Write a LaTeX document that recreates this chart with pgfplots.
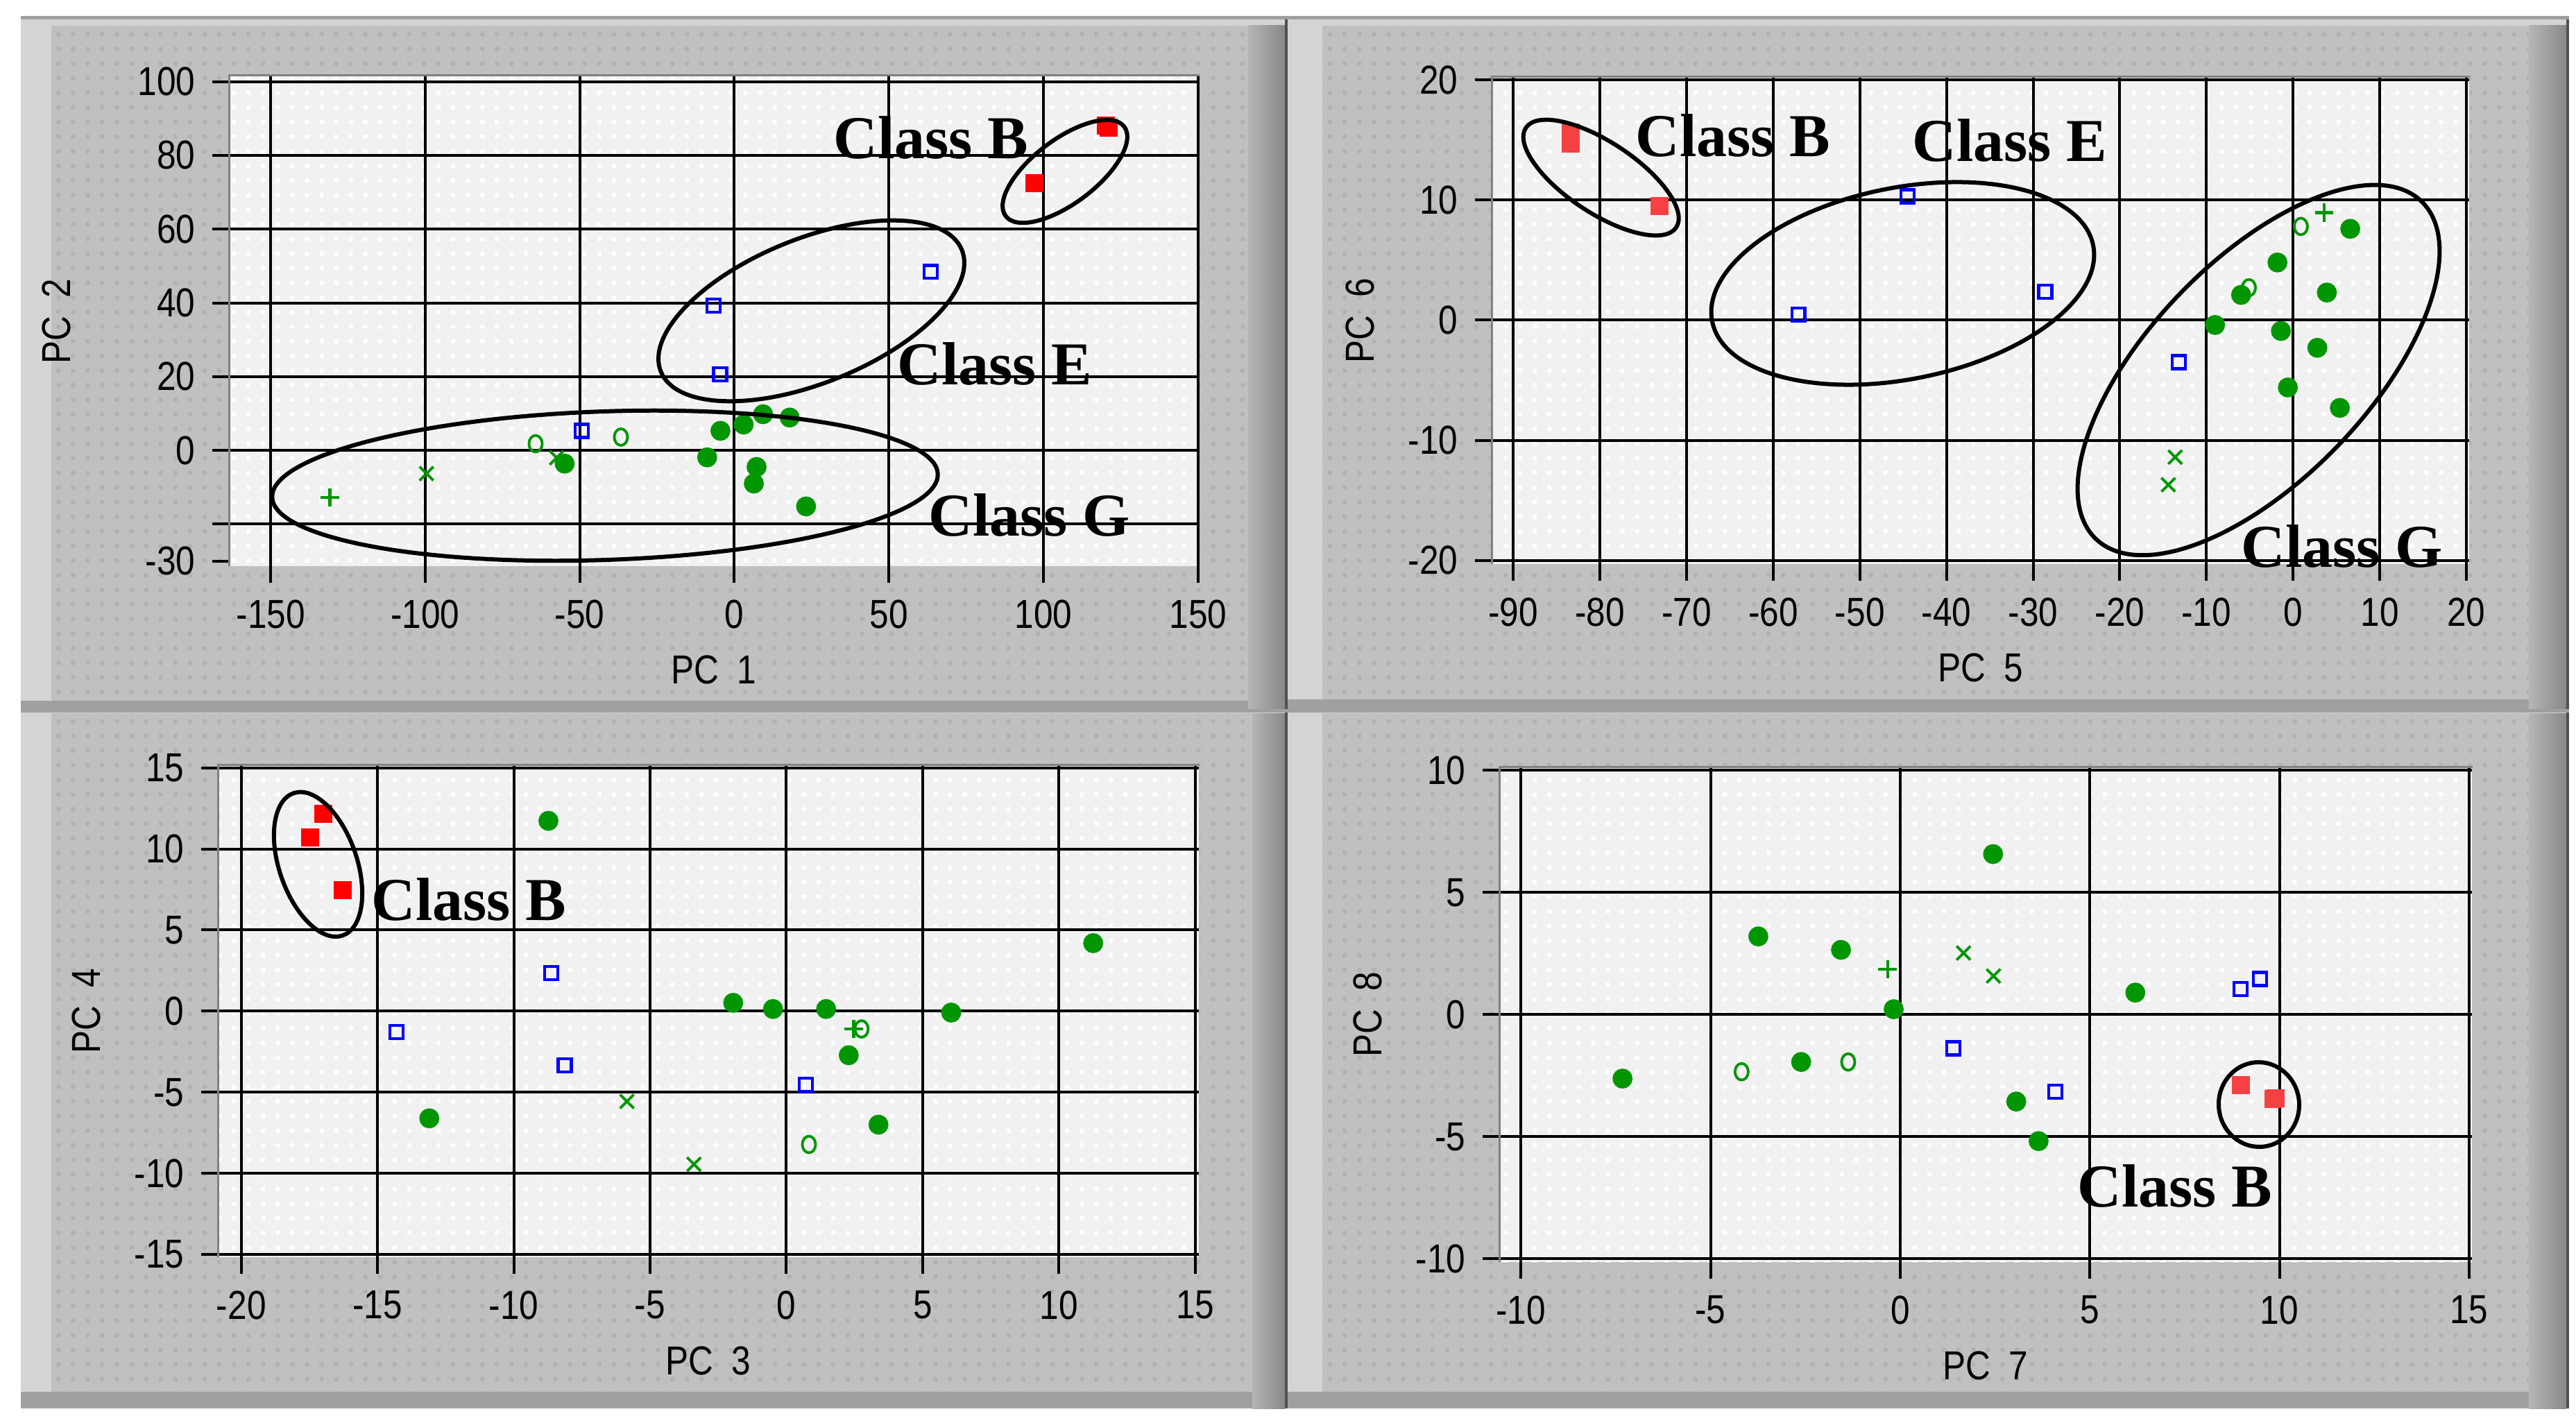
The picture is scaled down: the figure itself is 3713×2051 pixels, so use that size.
\documentclass[border=0pt]{standalone}
\usepackage{fontspec}
\usepackage{pgfplots}
\pgfplotsset{compat=1.18}
\usetikzlibrary{patterns}

\newfontfamily\tickfont[FakeStretch=0.85]{Liberation Sans}
\newfontfamily\classfont{Liberation Serif}

\definecolor{framelight}{RGB}{212,212,212}
\definecolor{panelgray}{RGB}{192,192,192}
\definecolor{dotgray}{RGB}{178,178,178}
\definecolor{bevelA}{RGB}{182,182,182}
\definecolor{bevelB}{RGB}{136,136,136}
\definecolor{edgedark}{RGB}{80,80,80}
\definecolor{plotbg}{RGB}{241,241,241}
\definecolor{plotedge}{RGB}{128,128,128}
\definecolor{pcgreen}{RGB}{0,150,0}
\definecolor{pcblue}{RGB}{0,0,255}
\definecolor{pcred}{RGB}{255,0,0}
\definecolor{pcredl}{RGB}{245,65,65}

% outer box x0 y0 x1 y1, inner box x0 y0 x1 y1 (pixels, y down)
\newcommand{\panel}[8]{%
  \fill[framelight] (#1,#2) rectangle (#3,#4);
  \fill[panelgray] (#5,#6) rectangle (#7,#8);
  \fill[pattern=dots, pattern color=dotgray] (#5,#6) rectangle (#7,#8);
  \fill[left color=bevelA, right color=bevelB] (#7,#6) rectangle (#3-4,#4);
  \fill[bevelA!88!black] (#1,#8) rectangle (#7,#4);
  \fill[edgedark] (#3-4,#2) rectangle (#3,#4);
  \fill[gray!75] (#1,#2) rectangle (#3,#2+5);
}

\pgfplotsset{
  pcaxis/.style={
    scale only axis, anchor=south west,
    axis x line*=bottom, axis y line*=left,
    axis line style={draw=none,-},
    tick align=outside, major tick length=0.12cm,
    tick style={black, line width=0.02cm},
    grid=major,
    major grid style={black, line width=0.02cm},
    axis background/.style={fill=plotbg, postaction={pattern=dots, pattern color=white}},
    tick label style={font=\tickfont\fontsize{8.3}{10}\selectfont},
    label style={font=\tickfont\fontsize{8.3}{10}\selectfont},
    xlabel style={yshift=1.4pt},
    /pgf/number format/assume math mode=true,
  },
  grpG/.style={only marks, mark=*, mark size=1.85pt, color=pcgreen},
  grpO/.style={only marks, mark=o, mark size=1.7pt, color=pcgreen, line width=0.55pt, mark options={xscale=0.8}},
  grpX/.style={only marks, mark=x, mark size=2pt, color=pcgreen, line width=0.55pt},
  grpP/.style={only marks, mark=+, mark size=1.9pt, color=pcgreen, line width=0.65pt},
  grpE/.style={only marks, mark=square, mark size=1.35pt, color=pcblue, line width=0.6pt},
  grpB/.style={only marks, mark=square*, mark size=1.65pt, color=#1},
}

\begin{document}
\begin{tikzpicture}[ell/.style={draw=black, line width=0.03cm},
  cls/.style={font=\classfont\bfseries\fontsize{12.5}{14}\selectfont, inner sep=0pt}]

\begin{scope}[x=0.005cm, y=-0.005cm]
  \useasboundingbox (0,0) rectangle (3713,2051);
  \fill[white] (0,0) rectangle (3713,2051);
  \panel{30}{23}{1856}{1022}{74}{37}{1799}{1010}
  \panel{1856}{23}{3703}{1022}{1906}{37}{3645}{1008}
  \panel{30}{1022}{1856}{2030}{74}{1028}{1805}{2006}
  \panel{1856}{1022}{3703}{2030}{1906}{1028}{3645}{2006}
  \coordinate (A1) at (330,816);
  \coordinate (A2) at (2150,813);
  \coordinate (A3) at (314,1812);
  \coordinate (A4) at (2161,1819);
\end{scope}

% PC 1 / PC 2
\begin{axis}[pcaxis, at={(A1)}, width=6.995cm, height=3.535cm,
  xmin=-163.5, xmax=150.2, ymin=-31.4, ymax=101.5,
  xtick={-150,-100,...,150}, ytick={-20,0,...,100},
  yticklabels={,0,20,40,60,80,100},
  extra y ticks={-30}, extra y tick labels={-30}, extra y tick style={grid=none},
  xlabel={PC\hspace{0.45em}1}, ylabel={PC\hspace{0.45em}2}]
\addplot[grpP] coordinates {(-130.8,-12.8)};
\addplot[grpX] coordinates {(-57.5,-2.0) (-99.6,-6.3)};
\addplot[grpO] coordinates {(-64.3,1.8) (-36.7,3.6)};
\addplot[grpG] coordinates {(-54.9,-3.6) (-4.5,5.3) (3.0,7.0) (9.3,9.8) (17.9,8.9)
  (-8.8,-1.9) (7.2,-4.5) (6.3,-9.0) (23.2,-15.2)};
\addplot[grpE] coordinates {(63.6,48.4) (-6.8,39.2) (-4.6,20.6) (-49.3,5.3)};
\addplot[grpB=pcred] coordinates {(97.0,72.5) (120.2,88.0) (121.1,87.6)};
\end{axis}

% PC 5 / PC 6
\begin{axis}[pcaxis, at={(A2)}, width=7.05cm, height=3.51cm,
  xmin=-92.5, xmax=20.3, ymin=-20.3, ymax=20.2,
  xtick={-90,-80,...,20}, ytick={-20,-10,...,20},
  xlabel={PC\hspace{0.45em}5}, ylabel={PC\hspace{0.45em}6}]
\addplot[grpP] coordinates {(3.6,8.95)};
\addplot[grpX] coordinates {(-13.6,-11.4) (-14.4,-13.7)};
\addplot[grpO] coordinates {(0.9,7.8) (-5.1,2.7)};
\addplot[grpG] coordinates {(6.6,7.6) (-1.8,4.8) (-6.0,2.1) (3.9,2.3) (-9.0,-0.4)
  (-1.4,-0.9) (2.8,-2.3) (-0.6,-5.6) (5.4,-7.3)};
\addplot[grpE] coordinates {(-44.5,10.3) (-57.1,0.45) (-28.6,2.37) (-13.2,-3.5)};
\addplot[grpB=pcredl] coordinates {(-83.4,15.6) (-83.4,14.7) (-73.1,9.5)};
\end{axis}

% PC 3 / PC 4
\begin{axis}[pcaxis, at={(A3)}, width=7.075cm, height=3.55cm,
  xmin=-20.86, xmax=15.13, ymin=-15.17, ymax=15.17,
  xtick={-20,-15,...,15}, ytick={-15,-10,...,15},
  xlabel={PC\hspace{0.45em}3}, ylabel={PC\hspace{0.45em}4}]
\addplot[grpO] coordinates {(2.76,-1.1) (0.83,-8.22)};
\addplot[grpP] coordinates {(2.47,-1.1)};
\addplot[grpX] coordinates {(-5.85,-5.57) (-3.39,-9.44)};
\addplot[grpG] coordinates {(11.26,4.19) (-1.95,0.51) (-0.49,0.13) (1.46,0.13) (6.05,-0.09)
  (2.29,-2.72) (-13.1,-6.61) (3.38,-7.0) (-8.73,11.73)};
\addplot[grpE] coordinates {(-8.63,2.36) (-14.3,-1.3) (-8.13,-3.33) (0.71,-4.55)};
\addplot[grpB=pcred] coordinates {(-16.99,12.16) (-17.48,10.72) (-16.27,7.44)};
\end{axis}

% PC 7 / PC 8
\begin{axis}[pcaxis, at={(A4)}, width=7.015cm, height=3.57cm,
  xmin=-10.57, xmax=15.07, ymin=-10.13, ymax=10.13,
  xtick={-10,-5,...,15}, ytick={-10,-5,...,10},
  xlabel={PC\hspace{0.45em}7}, ylabel={PC\hspace{0.45em}8}]
\addplot[grpP] coordinates {(-0.33,1.86)};
\addplot[grpX] coordinates {(1.67,2.52) (2.46,1.58)};
\addplot[grpO] coordinates {(-1.37,-1.94) (-4.18,-2.34)};
\addplot[grpG] coordinates {(2.45,6.57) (-3.74,3.20) (-1.56,2.65) (6.20,0.90) (-0.17,0.22)
  (-2.61,-1.94) (-7.32,-2.62) (3.06,-3.56) (3.65,-5.18)};
\addplot[grpE] coordinates {(9.48,1.46) (8.98,1.05) (1.40,-1.38) (4.09,-3.15)};
\addplot[grpB=pcredl] coordinates {(8.98,-2.88) (9.90,-3.43) (9.85,-3.45)};
\end{axis}

\begin{scope}[x=0.005cm, y=-0.005cm]
  % inset edge of each plot area
  \draw[plotedge, line width=0.015cm] (330,816) -- (330,109) -- (1729,109);
  \draw[plotedge, line width=0.015cm] (2150,813) -- (2150,111) -- (3560,111);
  \draw[plotedge, line width=0.015cm] (314,1812) -- (314,1102) -- (1729,1102);
  \draw[plotedge, line width=0.015cm] (2161,1819) -- (2161,1105) -- (3564,1105);
  % class ellipses
  \draw[ell, rotate around={37:(1535,247)}] (1535,247) ellipse [x radius=107, y radius=46];
  \draw[ell, rotate around={22:(1169.5,448)}] (1169.5,448) ellipse [x radius=234, y radius=104];
  \draw[ell, rotate around={2:(872,700)}] (872,700) ellipse [x radius=480, y radius=107];
  \draw[ell, rotate around={-33.5:(2307.7,256)}] (2307.7,256) ellipse [x radius=130, y radius=51];
  \draw[ell, rotate around={11.3:(2742.5,408.5)}] (2742.5,408.5) ellipse [x radius=280, y radius=138];
  \draw[ell, rotate around={46:(3255.5,533.4)}] (3255.5,533.4) ellipse [x radius=338, y radius=158];
  \draw[ell, rotate around={109:(458.5,1245.8)}] (458.5,1245.8) ellipse [x radius=108.5, y radius=56];
  \draw[ell, rotate around={95:(3256,1592)}] (3256,1592) ellipse [x radius=61, y radius=58];
  % class labels
  \node[cls] at (1342,198) {Class B};
  \node[cls] at (1434,524) {Class E};
  \node[cls] at (1484,742) {Class G};
  \node[cls] at (2498,195) {Class B};
  \node[cls] at (2897,202) {Class E};
  \node[cls] at (3376,787) {Class G};
  \node[cls] at (676,1296) {Class B};
  \node[cls] at (3135,1709) {Class B};
\end{scope}
\end{tikzpicture}
\end{document}
